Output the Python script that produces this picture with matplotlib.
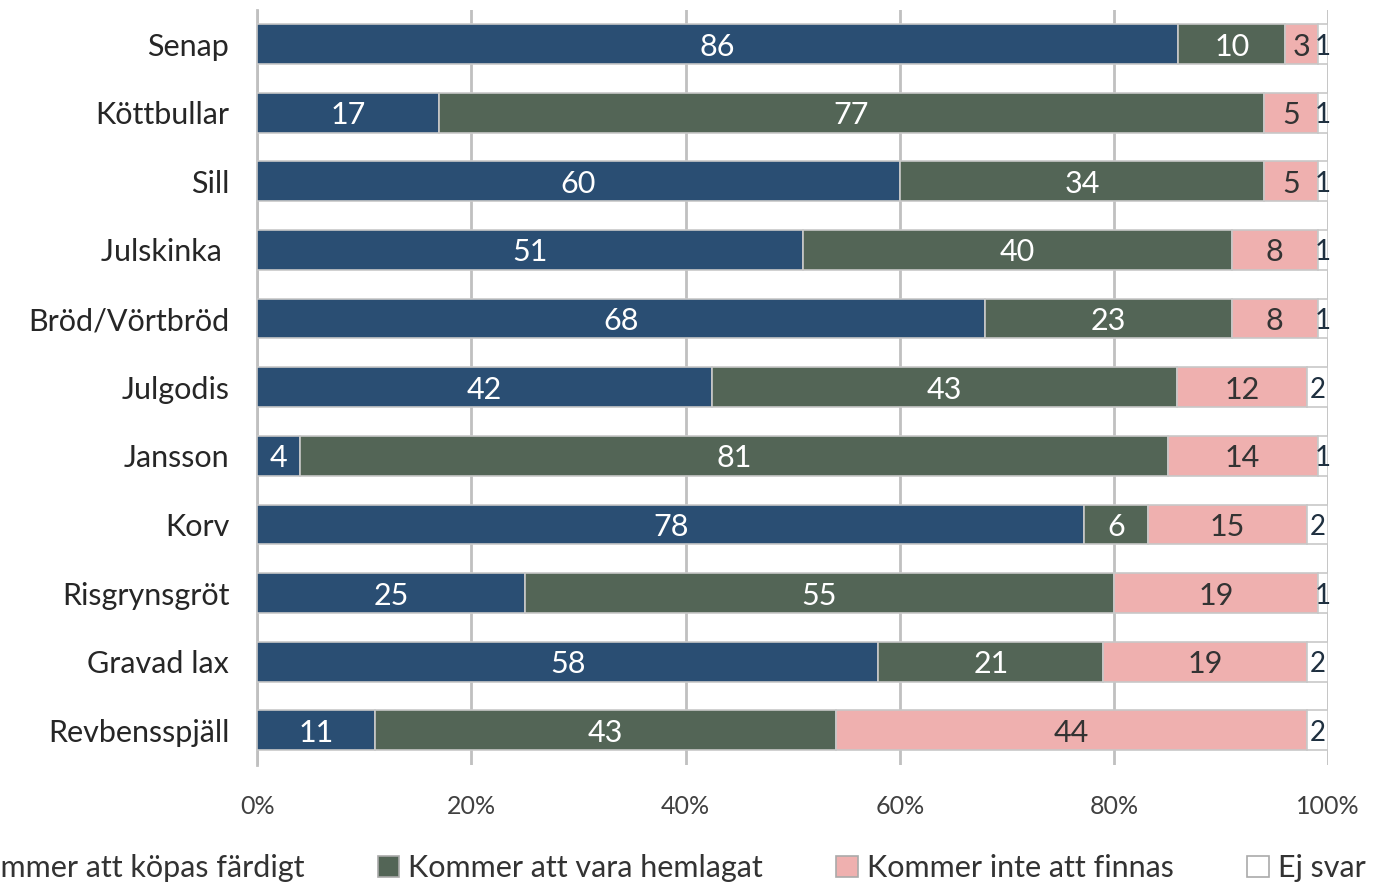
import matplotlib.pyplot as plt
import numpy as np

plt.rcParams['font.family'] = ['Lato', 'DejaVu Sans']

categories = ["Senap", "Köttbullar", "Sill", "Julskinka ", "Bröd/Vörtbröd", "Julgodis",
              "Jansson", "Korv", "Risgrynsgröt", "Gravad lax", "Revbensspjäll"]
series_names = ["Kommer att köpas färdigt", "Kommer att vara hemlagat",
                "Kommer inte att finnas", "Ej svar"]
kopas = [86, 17, 60, 51, 68, 42, 4, 78, 25, 58, 11]
hemlagat = [10, 77, 34, 40, 23, 43, 81, 6, 55, 21, 43]
inte = [3, 5, 5, 8, 8, 12, 14, 15, 19, 19, 44]
ej_svar = [1, 1, 1, 1, 1, 2, 1, 2, 1, 2, 2]

colors = ["#2a4e73", "#536556", "#efb0af", "#ffffff"]
text_colors = ["white", "white", "#333333", "#1f3040"]

data = np.array([kopas, hemlagat, inte, ej_svar], dtype=float)
shares = data / data.sum(axis=0) * 100

fig = plt.figure(figsize=(13.75, 8.86), dpi=100)
ax = fig.add_axes([0.187, 0.137, 0.779, 0.852])

y = np.arange(len(categories))
left = np.zeros(len(categories))
for i, name in enumerate(series_names):
    bars = ax.barh(y, shares[i], left=left, height=0.58, color=colors[i],
                   edgecolor="#c8c8c8", linewidth=1.2, label=name, zorder=3)
    fs = 20 if i == 3 else 22
    for j, b in enumerate(bars):
        ax.text(left[j] + shares[i][j] / 2, y[j], str(int(data[i][j])),
                ha="center", va="center_baseline", fontsize=fs,
                color=text_colors[i], zorder=4)
    left += shares[i]

ax.set_xlim(0, 100)
ax.set_ylim(10.5, -0.5)
ax.set_yticks(y)
ax.set_yticklabels(categories, fontsize=22, color="#262626")
ax.set_xticks(np.arange(0, 101, 20))
ax.set_xticklabels(["{}%".format(v) for v in range(0, 101, 20)], fontsize=18,
                   color="#404040")
ax.tick_params(length=0, pad=22, axis="x")
ax.tick_params(length=0, pad=20, axis="y")
ax.grid(axis="x", color="#c0c0c0", linewidth=2, zorder=0)
for s in ["top", "right", "bottom"]:
    ax.spines[s].set_visible(False)
ax.spines["left"].set_color("#c0c0c0")
ax.spines["left"].set_linewidth(2)

handles, labels = ax.get_legend_handles_labels()
leg = fig.legend(handles, labels, loc="center", ncol=4,
                 bbox_to_anchor=(0.472, 0.02), frameon=False, fontsize=22,
                 handlelength=0.7, handleheight=0.7, handletextpad=0.3,
                 columnspacing=2.4, labelcolor="#333333")
for h in leg.legend_handles:
    h.set_edgecolor("#aaaaaa")

fig.savefig("out.png", dpi=100)
